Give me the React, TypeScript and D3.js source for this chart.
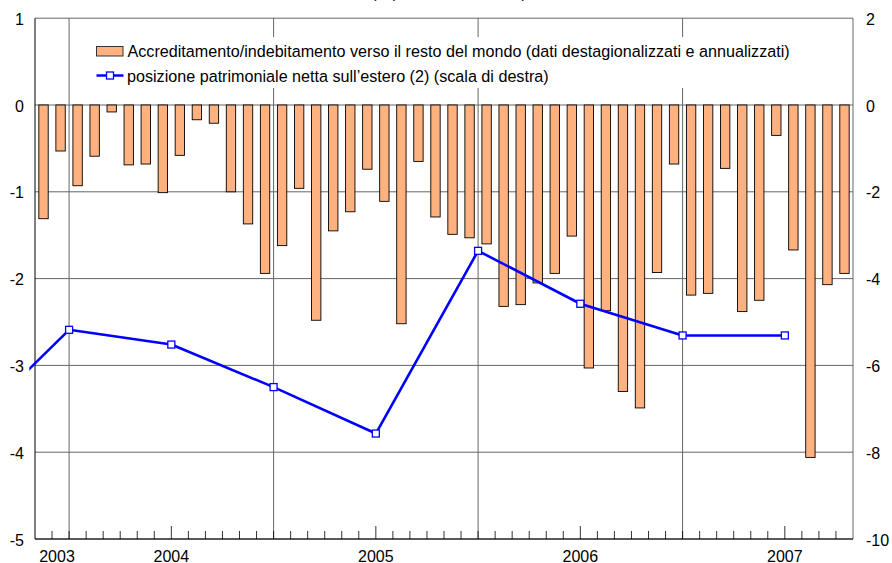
import * as d3 from "d3";

// monthly bars: May 2003 .. Apr 2007 (% of GDP)
const firstMonth = new Date(2003, 4, 1);
const months = d3.timeMonth.range(firstMonth, new Date(2007, 4, 1));
const barValues = [
  -1.31, -0.53, -0.93, -0.59, -0.08, -0.69, -0.68, -1.01, -0.58, -0.17, -0.21, -1.0,
  -1.37, -1.94, -1.62, -0.96, -2.48, -1.45, -1.23, -0.74, -1.11, -2.52, -0.65, -1.29,
  -1.49, -1.53, -1.6, -2.32, -2.3, -2.05, -1.94, -1.51, -3.03, -2.37, -3.3, -3.49,
  -1.93, -0.68, -2.19, -2.17, -0.73, -2.38, -2.25, -0.35, -1.67, -4.06, -2.07, -1.94,
];

// semiannual net foreign position (end of period), right scale
const linePeriods = [
  new Date(2002, 11, 1), new Date(2003, 5, 1), new Date(2003, 11, 1), new Date(2004, 5, 1),
  new Date(2004, 11, 1), new Date(2005, 5, 1), new Date(2005, 11, 1), new Date(2006, 5, 1),
  new Date(2006, 11, 1),
];
const lineValues = [-7.5, -5.18, -5.52, -6.5, -7.57, -3.36, -4.58, -5.31, -5.31];

const years = [2003, 2004, 2005, 2006, 2007];
const leftTicks = [1, 0, -1, -2, -3, -4, -5];
const rightTicks = [2, 0, -2, -4, -6, -8, -10];

const legendBars =
  "Accreditamento/indebitamento verso il resto del mondo (dati destagionalizzati e annualizzati)";
const legendLine = "posizione patrimoniale netta sull\u2019estero (2) (scala di destra)";

const W = 892;
const H = 563;
const M = { left: 35, right: 853, top: 18.2, bottom: 539 };
const FONT = "'Liberation Sans', Arial, sans-serif";

// month boundary index relative to May 2003
const monthIdx = (d: Date) => d3.timeMonth.count(firstMonth, d);

export default function App() {
  const x = d3
    .scaleBand<number>()
    .domain(d3.range(months.length))
    .range([M.left, M.right])
    .paddingInner(0.45)
    .paddingOuter(0.225);
  const xb = d3.scaleLinear().domain([0, months.length]).range([M.left, M.right]);
  const yL = d3.scaleLinear().domain([-5, 1]).range([M.bottom, M.top]);
  const yR = d3.scaleLinear().domain([-10, 2]).range([M.bottom, M.top]);

  const linePts: [number, number][] = linePeriods.map((d, i) => [
    xb(monthIdx(d) + 1),
    yR(lineValues[i]),
  ]);
  const line = d3.line();

  const yearTicks = years.map((y) => monthIdx(new Date(y, 0, 1)));
  const gridX = years.map((y) => monthIdx(new Date(y, 6, 1))).filter((i) => i > 0 && i < 48);

  return (
    <svg
      width={W}
      height={H}
      style={{ position: "absolute", left: 0, top: 0, background: "#fff" }}
      fontFamily={FONT}
    >
      <defs>
        <clipPath id="lineClip">
          <rect x={29.3} y={0} width={W} height={M.bottom} />
        </clipPath>
      </defs>

      <text x={449} y={-1.8} fontSize={15} textAnchor="middle">
        (in percentuale del PIL)
      </text>

      {/* horizontal gridlines */}
      {leftTicks.map((t) => (
        <line key={t} x1={M.left} x2={M.right} y1={yL(t)} y2={yL(t)} stroke="#666" strokeWidth={1} />
      ))}
      {/* vertical gridlines (mid-year) */}
      {gridX.map((i) => (
        <line key={i} x1={xb(i)} x2={xb(i)} y1={M.top} y2={M.bottom} stroke="#666" strokeWidth={1} />
      ))}
      <line x1={M.right} x2={M.right} y1={M.top} y2={M.bottom} stroke="#666" />

      {/* legend */}
      <rect x={88} y={37} width={712} height={51} fill="#fff" />
      <rect x={96.5} y={46.5} width={26.5} height={9.5} fill="#FFB27F" stroke="#333" strokeWidth={1} />
      <text x={127.5} y={56.5} fontSize={16.15}>
        {legendBars}
      </text>
      <line x1={96.5} x2={123.5} y1={75.5} y2={75.5} stroke="#0000ff" strokeWidth={2.5} />
      <rect x={106.5} y={72} width={7} height={7} fill="#fff" stroke="#0000ff" strokeWidth={1.3} />
      <text x={127} y={81.5} fontSize={16.15}>
        {legendLine}
      </text>

      {/* bars */}
      {barValues.map((v, i) => (
        <rect
          key={i}
          x={x(i)}
          y={yL(0)}
          width={x.bandwidth()}
          height={yL(v) - yL(0)}
          fill="#FFB27F"
          stroke="#000"
          strokeWidth={0.9}
        />
      ))}

      {/* axes */}
      <line x1={M.left} x2={M.left} y1={M.top} y2={M.bottom} stroke="#000" />
      <line x1={M.left} x2={M.right} y1={M.bottom} y2={M.bottom} stroke="#000" />
      {d3.range(1, months.length).map((i) => (
        <line
          key={i}
          x1={xb(i)}
          x2={xb(i)}
          y1={M.bottom}
          y2={M.bottom - (yearTicks.includes(i) ? 13 : 8)}
          stroke="#000"
          strokeWidth={0.8}
        />
      ))}
      {years.map((y, k) => (
        <text
          key={y}
          x={Math.max(xb(yearTicks[k]), M.left + 22)}
          y={561.5}
          fontSize={16}
          textAnchor="middle"
        >
          {y}
        </text>
      ))}
      {leftTicks.map((t) => (
        <text key={t} x={24} y={yL(t) + 1} fontSize={16} textAnchor="end" dominantBaseline="central">
          {t}
        </text>
      ))}
      {rightTicks.map((t) => (
        <text key={t} x={866} y={yR(t) + 1} fontSize={16} dominantBaseline="central">
          {t}
        </text>
      ))}

      {/* net foreign position line */}
      <g clipPath="url(#lineClip)">
        <path d={line(linePts) ?? ""} fill="none" stroke="#0000ff" strokeWidth={2.6} strokeLinejoin="round" />
        {linePts.slice(1).map(([px, py], i) => (
          <rect key={i} x={px - 3.5} y={py - 3.5} width={7} height={7} fill="#fff" stroke="#0000ff" strokeWidth={1.3} />
        ))}
      </g>
    </svg>
  );
}
